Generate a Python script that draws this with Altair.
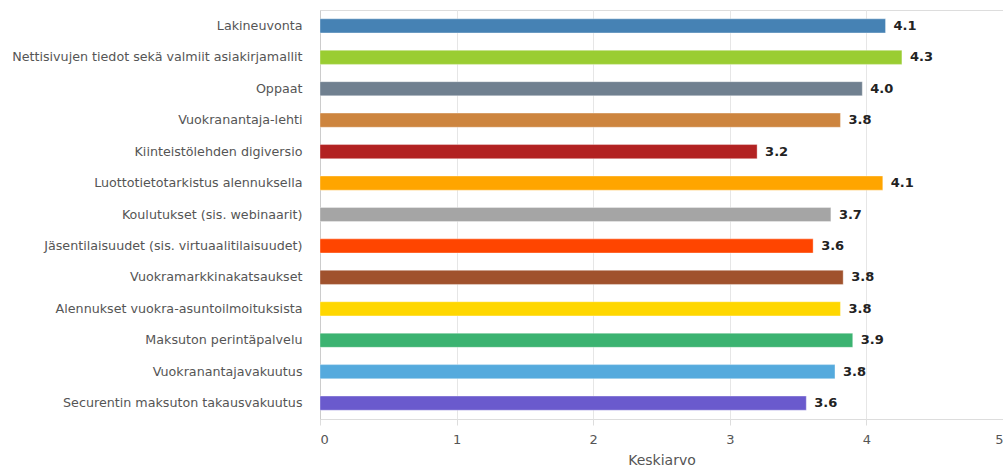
import altair as alt
import pandas as pd

categories = [
    "Lakineuvonta",
    "Nettisivujen tiedot sekä valmiit asiakirjamallit",
    "Oppaat",
    "Vuokranantaja-lehti",
    "Kiinteistölehden digiversio",
    "Luottotietotarkistus alennuksella",
    "Koulutukset (sis. webinaarit)",
    "Jäsentilaisuudet (sis. virtuaalitilaisuudet)",
    "Vuokramarkkinakatsaukset",
    "Alennukset vuokra-asuntoilmoituksista",
    "Maksuton perintäpalvelu",
    "Vuokranantajavakuutus",
    "Securentin maksuton takausvakuutus",
]
values = [4.14, 4.26, 3.97, 3.81, 3.20, 4.12, 3.74, 3.61, 3.83, 3.81, 3.90, 3.77, 3.56]
colors = [
    "#4682B4", "#9ACD32", "#708090", "#CD853F", "#B22222", "#FFA500", "#A5A5A5",
    "#FF4500", "#A0522D", "#FFD700", "#3CB371", "#55AADD", "#6A5ACD",
]

df = pd.DataFrame({"cat": categories, "val": values, "color": colors})
df["label"] = df["val"].map(lambda v: f"{v:.1f}")

FONT = "DejaVu Sans"

y = alt.Y(
    "cat:N",
    sort=categories,
    title=None,
    scale=alt.Scale(paddingInner=0.55, paddingOuter=0.28),
    axis=alt.Axis(
        ticks=False,
        labelPadding=18,
        labelFont=FONT,
        labelFontSize=12.7,
        labelColor="#555555",
        domainColor="#cccccc",
        labelLimit=400,
        grid=False,
    ),
)
x = alt.X(
    "val:Q",
    title="Keskiarvo",
    scale=alt.Scale(domain=[0, 5], nice=False),
    axis=alt.Axis(
        values=[0, 1, 2, 3, 4, 5],
        format="d",
        domain=False,
        tickColor="#dddddd",
        tickSize=6,
        labelPadding=8,
        labelFont=FONT,
        labelFontSize=13,
        labelColor="#555555",
        titleFont=FONT,
        titleFontSize=14,
        titleFontWeight="normal",
        titleColor="#555555",
        titlePadding=7,
        gridColor="#e6e6e6",
    ),
)

bars = alt.Chart(df).mark_bar(strokeWidth=1, strokeOpacity=0.35).encode(
    x=x,
    y=y,
    color=alt.Color("color:N", scale=None),
    stroke=alt.value("#ffffff"),
)
text = alt.Chart(df).mark_text(
    align="left", baseline="middle", dx=8, font=FONT, fontSize=13, fontWeight="bold", color="#222222"
).encode(x="val:Q", y=alt.Y("cat:N", sort=categories), text="label:N")

chart = (
    (bars + text)
    .properties(width=683, height=409, autosize=alt.AutoSizeParams(type="none"),
                padding={"left": 320, "top": 10, "right": 0, "bottom": 50})
    .configure_view(stroke=None)
    .configure(background="white")
)

chart.save("out.html", embed_options={"renderer": "svg", "actions": False})
